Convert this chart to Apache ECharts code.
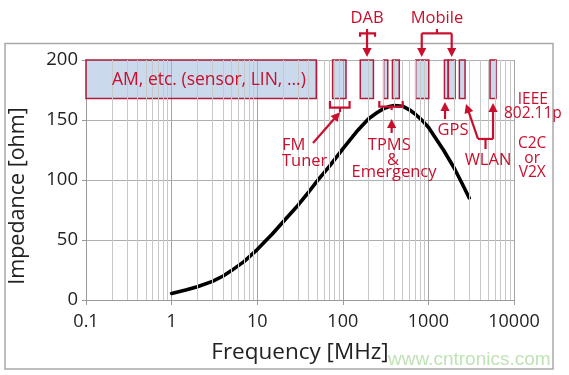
<!DOCTYPE html>
<html>
<head>
<meta charset="utf-8">
<script src="https://cdn.jsdelivr.net/npm/echarts@6/dist/echarts.min.js"></script>
<style>html,body{margin:0;padding:0;background:#fff}#chart{width:569px;height:375px}</style>
</head>
<body>
<div id="chart"></div>
<script>
// impedance curve
const freq = [1, 1.5, 2, 3, 4, 5, 7, 10, 15, 20, 30, 40, 50, 70, 100, 150, 200, 250, 300, 350, 400, 500, 600, 700, 850, 1000, 1200, 1500, 2000, 2500, 3000];
const impedance = [5.5, 8.5, 11, 15.5, 20, 24.5, 32, 42, 55, 65, 79, 90, 99, 111.5, 126, 141.5, 151, 156, 159.5, 161.2, 162, 161.5, 158.5, 155, 149.5, 144, 135.5, 125, 110, 96.5, 85];

// frequency bands (MHz), drawn as boxes at the top
const bandStart = [0.1, 76, 160, 300, 380, 710, 1540, 1710, 2300, 5250];
const bandEnd = [49, 109, 228, 335, 457, 1010, 1700, 2050, 2680, 6170];
const bandLow = 168;
const bandHigh = 200;

const FONT = '"Open Sans", "Noto Sans", sans-serif';
const RED = '#c8102e';

// log minor grid lines 2..9 per decade
const minorLines = [];
for (let d = -1; d < 4; d++) {
  for (let k = 2; k < 10; k++) minorLines.push({ xAxis: k * Math.pow(10, d) });
}

const option = {
  animation: false,
  grid: { left: 86, right: 55, top: 60, bottom: 75 },
  xAxis: {
    type: 'log', logBase: 10, min: 0.1, max: 10000, splitNumber: 5,
    axisLine: { show: true, lineStyle: { color: '#9a9a9a' } },
    axisTick: { show: true, length: 5, lineStyle: { color: '#9a9a9a' } },
    splitLine: { show: true, lineStyle: { color: '#a4a4a4', width: 1 } },
    axisLabel: {
      color: '#222', fontSize: 18, fontFamily: FONT, margin: 13,
      formatter: v => v < 1 ? v.toFixed(1) : String(Math.round(v))
    },
    name: 'Frequency [MHz]', nameLocation: 'middle', nameGap: 41,
    nameTextStyle: { color: '#222', fontSize: 22.5, fontFamily: FONT }
  },
  yAxis: {
    type: 'value', min: 0, max: 200, interval: 50,
    axisLine: { show: true, lineStyle: { color: '#9a9a9a' } },
    axisTick: { show: true, length: 4, lineStyle: { color: '#9a9a9a' } },
    splitLine: { lineStyle: { color: '#b0b0b0', width: 1 } },
    axisLabel: { color: '#222', fontSize: 18.5, fontFamily: FONT, margin: 8 }
  },
  series: [
    {
      type: 'line', data: [], z: 2, silent: true,
      markLine: {
        silent: true, symbol: ['none', 'none'], animation: false,
        label: { show: false },
        lineStyle: { color: '#c8c8c8', width: 1, type: 'solid' },
        emphasis: { disabled: true },
        data: minorLines
      },
      markArea: {
        silent: true,
        itemStyle: { color: 'rgba(160,186,222,0.55)', borderColor: '#ad1f3a', borderWidth: 1.5 },
        data: bandStart.map((s, i) => [{ coord: [s, bandLow] }, { coord: [bandEnd[i], bandHigh] }])
      }
    },
    {
      type: 'line', z: 4, smooth: false, symbol: 'none',
      lineStyle: { color: '#000', width: 3.6, join: 'round', cap: 'round' },
      data: freq.map((f, i) => [f, impedance[i]])
    }
  ]
};

const chart = echarts.init(document.getElementById('chart'));
chart.setOption(option);

// annotations, in [MHz, ohm]
const brackets = [
  [[159, 219.4], [159, 222.2], [238, 222.2], [238, 219.4]],
  [[192, 222.2], [192, 225.8]],
  [[836, 222.2], [1871, 222.2]],
  [[1259, 222.2], [1259, 225.8]],
  [[70.8, 165.8], [70.8, 160.3], [120, 160.3], [120, 165.8]],
  [[92.7, 160.3], [92.7, 156.5]],
  [[267, 165.8], [267, 161.1], [501, 161.1], [501, 165.8]],
  [[372, 161.1], [372, 158.3]],
  [[3795, 134.2], [5689, 134.2]],
  [[4645, 134.2], [4645, 125.8]]
];
const arrows = [
  [[192, 222.2], [192, 202.5]],
  [[836, 222.2], [836, 202.5]],
  [[1871, 222.2], [1871, 202.5]],
  [[44.9, 130.8], [92.7, 156.5]],
  [[372, 139.2], [372, 150.8]],
  [[1563, 150.8], [1563, 165]],
  [[3795, 134.2], [2750, 163.3]],
  [[5689, 134.2], [5689, 164.2]]
];
const labels = [
  ['DAB', 192, 235, 'center', 16.5],
  ['Mobile', 1259, 235, 'center', 16.5],
  ['AM, etc. (sensor, LIN, ...)', 2.73, 183.5, 'center', 17.5],
  ['FM', 19.5, 129.2, 'left', 16.5],
  ['Tuner', 19.5, 115.3, 'left', 16.5],
  ['TPMS', 349, 128.6, 'center', 16.5],
  ['&', 385, 116.1, 'center', 16.5],
  ['Emergency', 396, 106.7, 'center', 16.5],
  ['GPS', 1936, 141.7, 'center', 16.5],
  ['WLAN', 4966, 116.7, 'center', 16.5],
  ['IEEE', 16600, 166.7, 'center', 15.5],
  ['802.11p', 16600, 155.2, 'center', 15.5],
  ['C2C', 16300, 130.6, 'center', 15.5],
  ['or', 16300, 117.8, 'center', 15.5],
  ['V2X', 16300, 106.4, 'center', 15.5]
];

const px = p => chart.convertToPixel({ gridIndex: 0 }, p);
const lineStyle = { stroke: RED, lineWidth: 2.2, fill: null, lineJoin: 'miter' };
const graphics = [];

graphics.push({
  type: 'rect', z: 0, silent: true,
  shape: { x: 5, y: 43.5, width: 548, height: 325.5 },
  style: { fill: null, stroke: '#a8a8a8', lineWidth: 1.5 }
});

brackets.forEach(b => {
  graphics.push({ type: 'polyline', z: 10, silent: true, shape: { points: b.map(px) }, style: lineStyle });
});

arrows.forEach(a => {
  const p0 = px(a[0]), p1 = px(a[1]);
  const dx = p1[0] - p0[0], dy = p1[1] - p0[1], len = Math.hypot(dx, dy);
  const ux = dx / len, uy = dy / len, L = 9, W = 4.6;
  const bx = p1[0] - ux * L, by = p1[1] - uy * L;
  graphics.push({ type: 'polyline', z: 10, silent: true, shape: { points: [p0, [bx + ux * 2, by + uy * 2]] }, style: lineStyle });
  graphics.push({
    type: 'polygon', z: 10, silent: true,
    shape: { points: [p1, [bx - uy * W, by + ux * W], [bx + uy * W, by - ux * W]] },
    style: { fill: RED }
  });
});

labels.forEach(l => {
  const p = px([l[1], l[2]]);
  graphics.push({
    type: 'text', z: 11, silent: true, x: p[0], y: p[1],
    style: { text: l[0], fill: RED, font: l[4] + 'px ' + FONT, textAlign: l[3], textVerticalAlign: 'middle' }
  });
});

graphics.push({
  type: 'text', z: 11, silent: true, x: 18, y: 196, rotation: Math.PI / 2,
  style: { text: 'Impedance [ohm]', fill: '#222', font: '21.5px ' + FONT, textAlign: 'center', textVerticalAlign: 'middle' }
});
graphics.push({
  type: 'text', z: 11, silent: true, x: 388, y: 360,
  style: { text: 'www.cntronics.com', fill: '#bfe3b4', font: '19px "Liberation Sans", Arial, sans-serif', textAlign: 'left', textVerticalAlign: 'middle' }
});

chart.setOption({ graphic: graphics });
</script>
</body>
</html>
